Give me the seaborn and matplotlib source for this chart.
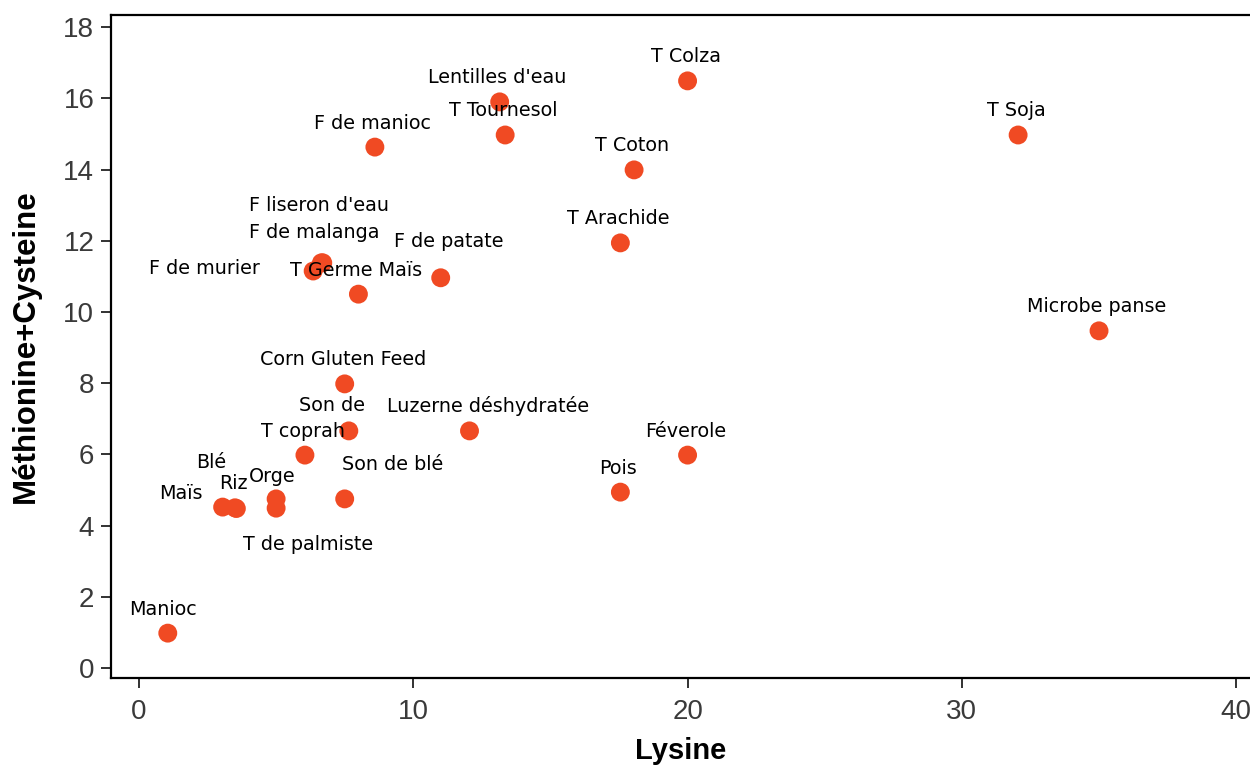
import matplotlib
matplotlib.use("Agg")
import matplotlib.pyplot as plt
import seaborn as sns
import pandas as pd
from matplotlib import font_manager

# ---- data ----
names = ["Manioc", "Maïs", "Blé", "Riz", "Orge", "T de palmiste", "T coprah",
         "Son de blé", "Son de", "Luzerne déshydratée", "Corn Gluten Feed",
         "T Germe Maïs", "F de murier", "F de malanga", "F liseron d'eau",
         "F de patate", "F de manioc", "Lentilles d'eau", "T Tournesol",
         "T Colza", "T Coton", "T Arachide", "T Soja", "Microbe panse",
         "Féverole", "Pois"]
lysine = [1.05, 3.05, 3.5, 3.55, 5.0, 5.0, 6.05,
          7.5, 7.65, 12.05, 7.5,
          8.0, 6.35, 6.65, 6.7,
          11.0, 8.6, 13.15, 13.35,
          20.0, 18.05, 17.55, 32.05, 35.0,
          20.0, 17.55]
metcys = [0.98, 4.52, 4.5, 4.48, 4.75, 4.49, 5.98,
          4.75, 6.66, 6.66, 7.98,
          10.5, 11.15, 11.38, 11.38,
          10.96, 14.63, 15.9, 14.97,
          16.49, 13.99, 11.94, 14.97, 9.47,
          5.98, 4.94]

df = pd.DataFrame({"Lysine": lysine, "Methcys": metcys, "name": names})

# label offsets in pixels (layout only)
default_off = (-2, 24)
label_off = {
    "Manioc": (-5, 24), "Maïs": (-42, 14), "Blé": (-24, 45), "Riz": (-3, 25),
    "Orge": (-4, 22), "T de palmiste": (32, -36), "Son de blé": (48, 34),
    "Son de": (-17, 25), "Luzerne déshydratée": (19, 25),
    "F de murier": (-109, 3), "F de malanga": (-7, 30),
    "F liseron d'eau": (-4, 57), "F de patate": (8, 36),
}

sns.set_style("ticks")
plt.rcParams["font.family"] = ["DejaVu Sans"]

avail = {f.name for f in font_manager.fontManager.ttflist}
tick_family = "Liberation Sans Narrow" if "Liberation Sans Narrow" in avail else "Liberation Sans"
tick_size = 23 if tick_family == "Liberation Sans Narrow" else 20

fig = plt.figure(figsize=(12.5, 7.67), dpi=100)
ax = fig.add_axes([111 / 1250, 1 - 678 / 767, 1140 / 1250, 663 / 767])

sns.scatterplot(data=df, x="Lysine", y="Methcys", ax=ax, s=185,
                color="#F04A23", edgecolor="none", zorder=3)

for n, xv, yv in zip(df["name"], df["Lysine"], df["Methcys"]):
    dx, dy = label_off.get(n, default_off)
    ax.annotate(n, (xv, yv), xytext=(dx, dy), textcoords="offset pixels",
                ha="center", va="center", fontsize=13.8, color="black",
                family="DejaVu Sans", zorder=4)

ax.set_xlim(-1.02, 40.54)
ax.set_ylim(-0.28, 18.34)
ax.set_xticks([0, 10, 20, 30, 40])
ax.set_yticks(list(range(0, 19, 2)))

for side in ["left", "bottom", "top"]:
    ax.spines[side].set_linewidth(1.6)
    ax.spines[side].set_color("black")
ax.spines["right"].set_visible(False)

ax.tick_params(axis="both", length=7, width=1.3, color="#222222",
               labelsize=tick_size, labelcolor="#3a3a3a")
ax.tick_params(axis="x", pad=8)
ax.tick_params(axis="y", pad=5)
for lab in ax.get_xticklabels() + ax.get_yticklabels():
    lab.set_family(tick_family)

ax.set_xlabel("Lysine", fontsize=21, fontweight="bold", color="black",
              family="Liberation Sans", labelpad=9)
ax.set_ylabel("Méthionine+Cysteine", fontsize=22.5, fontweight="bold",
              color="black", family="Liberation Sans", labelpad=16)

fig.savefig("out.png", dpi=100)
